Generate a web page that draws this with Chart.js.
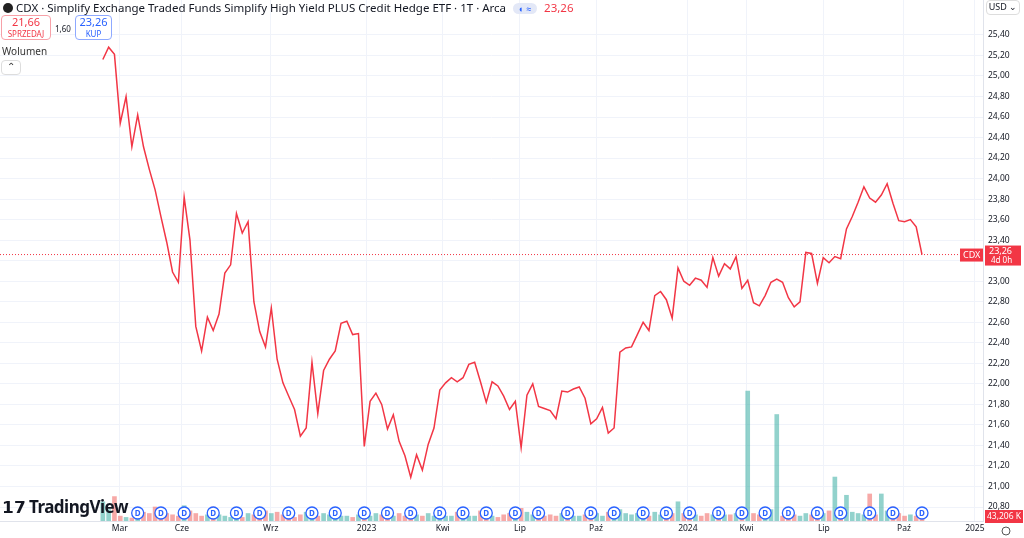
<!DOCTYPE html>
<html>
<head>
<meta charset="utf-8">
<script src="https://cdn.jsdelivr.net/npm/chart.js@4.4.1/dist/chart.umd.min.js"></script>
<style>
  body { margin: 0; background: #fff; font-family: "Noto Sans", Roboto, sans-serif; }
  #wrap { position: relative; width: 1024px; height: 538px; overflow: hidden; }
  canvas { position: absolute; left: 0; top: 0; }
  .ov { position: absolute; font-size: 11px; color: #131722; white-space: nowrap; }
  .box { position: absolute; border: 1px solid; border-radius: 4px; text-align: center; font-size: 10px; line-height: 11px; background: #fff; }
</style>
</head>
<body>
<div id="wrap">
  <canvas id="chart" width="1024" height="538"></canvas>
  <div class="ov" style="left:3px;top:0px;font-size:11.5px;">
    <span style="display:inline-block;width:10px;height:10px;border-radius:50%;background:#222;vertical-align:-1px;"></span>
    CDX · Simplify Exchange Traded Funds Simplify High Yield PLUS Credit Hedge ETF · 1T · Arca
    <span style="display:inline-block;width:24px;height:11px;border-radius:6px;background:#e3e8f7;color:#2962ff;font-size:9px;text-align:center;line-height:11px;vertical-align:0px;margin-left:4px">◐ ≈</span>
    <span style="color:#f23645;margin-left:4px">23,26</span>
  </div>
  <div class="box" style="left:1px;top:15px;width:48px;height:23px;border-color:#f7a1a8;color:#f23645;"><span style="font-size:11px">21,66</span><br><span style="font-size:8px">SPRZEDAJ</span></div>
  <div class="ov" style="left:55px;top:23px;font-size:8px;">1,60</div>
  <div class="box" style="left:75px;top:15px;width:35px;height:23px;border-color:#8ea9ff;color:#2962ff;"><span style="font-size:11px">23,26</span><br><span style="font-size:8px">KUP</span></div>
  <div class="ov" style="left:2px;top:44px;font-size:10px;color:#333">Wolumen</div>
  <div class="box" style="left:1px;top:60px;width:18px;height:13px;border-color:#ddd;color:#333;font-size:10px;">⌃</div>
  <div class="ov" style="left:2px;top:495px;font-size:17px;font-weight:bold;letter-spacing:-0.5px;"><span style="font-weight:900">𝟭𝟳</span> TradingView</div>
  <div class="box" style="left:986px;top:0px;width:32px;height:13px;border-color:#ddd;color:#131722;font-size:9px;">USD ⌄</div>
</div>
<script>
const prices = [25.16,25.28,25.21,24.54,24.80,24.31,24.62,24.31,24.09,23.89,23.63,23.38,23.09,22.99,23.82,23.40,22.56,22.32,22.65,22.52,22.68,23.08,23.16,23.66,23.47,23.58,22.80,22.51,22.36,22.74,22.24,22.01,21.88,21.75,21.49,21.57,22.21,21.71,22.13,22.24,22.32,22.59,22.61,22.48,22.49,
  21.39,21.83,21.91,21.80,21.56,21.70,21.44,21.30,21.09,21.31,21.16,21.41,21.57,21.94,22.01,22.06,22.02,22.06,22.19,22.21,22.02,21.82,22.02,21.98,21.88,21.75,21.83,21.38,21.89,22.00,21.78,21.76,21.74,21.66,21.93,21.92,21.95,21.97,21.86,21.61,21.66,21.77,21.52,21.57,22.31,22.35,22.36,22.48,22.60,22.52,
  22.86,22.90,22.82,22.64,23.13,23.00,22.96,23.03,23.01,22.94,23.23,23.05,23.17,23.12,23.24,22.93,23.01,22.79,22.76,22.86,22.99,23.02,22.99,22.84,22.75,22.80,23.28,23.27,22.98,23.23,23.18,23.24,23.22,23.51,23.63,23.77,23.92,23.81,23.77,23.84,23.95,23.76,23.59,23.58,23.60,23.53,23.26];
const volumes = [150,90,190,40,30,25,50,70,60,110,90,60,50,40,120,80,60,40,50,110,50,40,30,40,30,60,50,40,80,60,70,50,40,30,50,70,60,40,60,50,50,40,40,30,50,
  80,40,60,50,70,40,60,40,30,50,40,60,40,50,40,40,70,50,40,40,80,50,40,30,50,60,40,100,70,50,40,40,50,40,60,50,40,40,50,60,60,40,70,60,90,60,50,60,50,40,
  70,50,40,60,150,60,40,50,40,60,50,60,50,50,60,80,1000,60,50,60,90,820,40,60,50,40,60,50,40,60,80,340,60,200,70,60,50,210,50,210,80,110,60,40,50,40,60];
const tickValues = [20.80,21.00,21.20,21.40,21.60,21.80,22.00,22.20,22.40,22.60,22.80,23.00,23.20,23.40,23.60,23.80,24.00,24.20,24.40,24.60,24.80,25.00,25.20,25.40];
const monthLabels = ["Mar","Cze","Wrz","2023","Kwi","Lip","Paź","2024","Kwi","Lip","Paź","2025"];
const monthIndex = [2.9,13.6,28.9,45.4,58.5,71.8,84.9,100.7,110.8,124.1,137.9,150.1];
const dividendIndex = [6,10,14,19,23,27,32,36,40,45,49,53,58,62,66,71,75,80,84,88,93,97,101,106,110,114,118,123,127,132,136,141];
const lastPrice = 23.26;

const fmt = v => v.toFixed(2).replace(".", ",");
const pricePts = prices.map((p, i) => ({ x: i, y: p }));
const volPts = volumes.map((v, i) => ({ x: i, y: v }));
const volColors = prices.map((p, i) => (i === 0 || p >= prices[i - 1]) ? "rgba(38,166,154,0.5)" : "rgba(239,83,80,0.5)");

const overlay = {
  id: "overlay",
  afterDatasetsDraw(chart) {
    const { ctx, scales, chartArea } = chart;
    const y = scales.y.getPixelForValue(lastPrice);
    ctx.save();
    ctx.strokeStyle = "#f23645";
    ctx.lineWidth = 1;
    ctx.setLineDash([1, 2]);
    ctx.beginPath(); ctx.moveTo(chartArea.left, y); ctx.lineTo(chartArea.right, y); ctx.stroke();
    ctx.setLineDash([]);
    dividendIndex.forEach(i => {
      const x = scales.x.getPixelForValue(i);
      ctx.beginPath(); ctx.arc(x, 513, 6, 0, Math.PI * 2);
      ctx.fillStyle = "#fff"; ctx.fill();
      ctx.strokeStyle = "#2962ff"; ctx.lineWidth = 1.3; ctx.stroke();
      ctx.fillStyle = "#2962ff"; ctx.font = "bold 8px 'Noto Sans'";
      ctx.textAlign = "center"; ctx.textBaseline = "middle";
      ctx.fillText("D", x, 513.5);
    });
    ctx.fillStyle = "#f23645";
    ctx.fillRect(985, y - 9, 36, 20);
    ctx.fillRect(960, y - 6, 23, 13);
    ctx.fillStyle = "#fff";
    ctx.textAlign = "left"; ctx.textBaseline = "middle";
    ctx.font = "9px 'Noto Sans'";
    ctx.fillText("CDX", 963, y + 0.5);
    ctx.fillText(fmt(lastPrice), 989, y - 3);
    ctx.font = "8px 'Noto Sans'";
    ctx.fillText("4d 0h", 991, y + 6);
    ctx.fillStyle = "#f23645"; ctx.fillRect(985, 510, 38, 13);
    ctx.fillStyle = "#fff"; ctx.font = "8.5px 'Noto Sans'";
    ctx.fillText("43,206 K", 987, 517);
    ctx.strokeStyle = "#555"; ctx.lineWidth = 1;
    ctx.beginPath(); ctx.arc(1006, 531, 4, 0, Math.PI * 2); ctx.stroke();
    ctx.restore();
  }
};

new Chart(document.getElementById("chart"), {
  data: {
    datasets: [
      { type: "line", data: pricePts, borderColor: "#f23645", borderWidth: 1.5, pointRadius: 0, tension: 0, yAxisID: "y", order: 1 },
      { type: "bar", data: volPts, backgroundColor: volColors, barPercentage: 1, categoryPercentage: 0.8, yAxisID: "yv", order: 2 }
    ]
  },
  options: {
    responsive: false,
    animation: false,
    layout: { padding: 0 },
    plugins: { legend: { display: false }, tooltip: { enabled: false } },
    scales: {
      x: {
        type: "linear", min: -17.7, max: 151.5, offset: false,
        afterBuildTicks: s => { s.ticks = monthIndex.map(v => ({ value: v })); },
        afterFit: s => { s.height = 17; s.paddingLeft = 0; s.paddingRight = 0; },
        ticks: {
          autoSkip: false, maxRotation: 0, padding: 2,
          font: { family: "Noto Sans", size: 8.5 }, color: "#131722",
          callback: (v, i) => monthLabels[i]
        },
        grid: { color: "#f0f3fa", drawTicks: false, offset: false },
        border: { color: "#e0e3eb" }
      },
      y: {
        position: "right", min: 20.664, max: 25.74,
        afterBuildTicks: s => { s.ticks = tickValues.map(v => ({ value: v })); },
        afterFit: s => { s.width = 41; s.paddingTop = 0; s.paddingBottom = 0; },
        ticks: { font: { family: "Noto Sans", size: 8.5 }, color: "#131722", padding: 5, callback: v => fmt(v) },
        grid: { color: "#f0f3fa", drawTicks: false },
        border: { color: "#e0e3eb" }
      },
      yv: { display: false, min: 0, max: 4000 }
    }
  },
  plugins: [overlay]
});
</script>
</body>
</html>
